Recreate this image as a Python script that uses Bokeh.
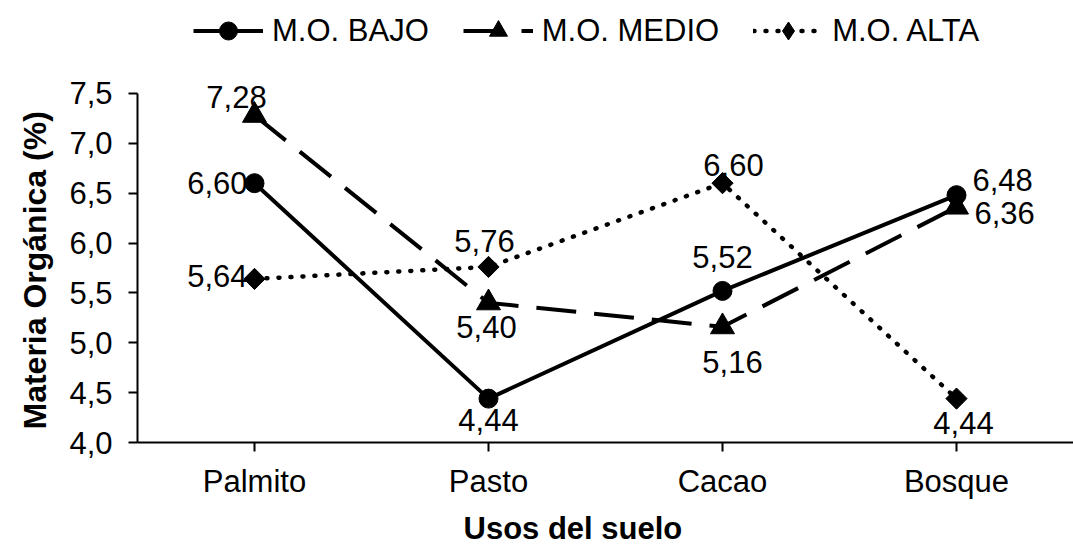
from bokeh.plotting import figure
from bokeh.layouts import column
from bokeh.models import (FactorRange, Range1d, FixedTicker, CustomJSTickFormatter,
                          Legend, LegendItem, ColumnDataSource, Title)
from bokeh.embed import file_html
from bokeh.resources import INLINE
import numpy as np

# ---------------- data ----------------
categories = ["Palmito", "Pasto", "Cacao", "Bosque"]
mo_bajo = [6.60, 4.44, 5.52, 6.48]
mo_medio = [7.28, 5.40, 5.16, 6.36]
mo_alta = [5.64, 5.76, 6.60, 4.44]
series_names = ["M.O. BAJO", "M.O. MEDIO", "M.O. ALTA"]
y_ticks = [4.0, 4.5, 5.0, 5.5, 6.0, 6.5, 7.0, 7.5]
y_tick_labels = ["4,0", "4,5", "5,0", "5,5", "6,0", "6,5", "7,0", "7,5"]
y_min, y_max = 4.0, 7.5
x_title = "Usos del suelo"
y_title = "Materia Orgánica (%)"

# ---------------- label placement (styling) ----------------
lab_align = {
    "bajo": ["right", "center", "center", "left"],
    "medio": ["center", "center", "center", "left"],
    "alta": ["right", "center", "center", "center"],
}
lab_dx = {"bajo": [-7, 0, 0, 16], "medio": [-18, -2, 10, 18], "alta": [-7, -4, 11, 7]}
lab_dy = {"bajo": [0, 21, -34, -15], "medio": [-18, 24, 35, 6], "alta": [-3, -26, -18, 24]}

FONT = "Liberation Sans"
FS = "31px"

TOP_H = 62          # legend strip height
MAIN_H = 552 - TOP_H
FRAME_H = MAIN_H - 109
# extra headroom above 7.5 so the top labels are not clipped (axis line bounded to 4.0-7.5)
y_top = y_min + (y_max - y_min) * FRAME_H / 350.0

p = figure(width=1073, height=MAIN_H,
           x_range=FactorRange(*categories, range_padding=0),
           y_range=Range1d(y_min, y_top),
           output_backend="svg", toolbar_location=None,
           min_border_left=137, min_border_right=0,
           min_border_top=0, min_border_bottom=109)

p.xgrid.grid_line_color = None
p.ygrid.grid_line_color = None
p.outline_line_color = None
p.background_fill_color = "white"
p.border_fill_color = "white"

for ax in (p.xaxis[0], p.yaxis[0]):
    ax.axis_line_color = "black"
    ax.axis_line_width = 2
    ax.major_tick_line_color = "black"
    ax.major_tick_line_width = 2
    ax.major_tick_in = 0
    ax.major_tick_out = 9
    ax.minor_tick_line_color = None
    ax.major_label_text_font = FONT
    ax.major_label_text_font_size = FS
    ax.major_label_text_color = "black"

p.yaxis.bounds = (y_min, y_max)
p.yaxis.ticker = FixedTicker(ticks=y_ticks)
p.yaxis.formatter = CustomJSTickFormatter(
    args=dict(yt=y_ticks, yl=y_tick_labels),
    code="""
    for (let i = 0; i < yt.length; i++) {
        if (Math.abs(yt[i] - tick) < 1e-9) return yl[i];
    }
    return tick.toFixed(1).replace('.', ',');
    """)
p.yaxis.major_label_standoff = 16
p.xaxis.major_label_standoff = 12

# axis titles
p.add_layout(Title(text=x_title, text_font=FONT, text_font_size=FS, text_font_style="bold",
                   text_color="black", align="left", offset=326, standoff=14), "below")
p.add_layout(Title(text=y_title, text_font=FONT, text_font_size="32px", text_font_style="bold",
                   text_color="black", align="left", offset=13, standoff=27), "left")

def fmt(v):
    return f"{v:.2f}".replace(".", ",")

series = [
    ("bajo", mo_bajo, dict(line_dash="solid", line_width=4, line_cap="butt"),
     dict(marker="circle", size=19, angle=0.0), "circle"),
    ("medio", mo_medio, dict(line_dash="40 18", line_width=4, line_cap="butt"),
     dict(marker="triangle", size=24, angle=0.0), "triangle"),
    ("alta", mo_alta, dict(line_dash="1 11", line_width=4.5, line_cap="round"),
     dict(marker="square", size=15, angle=np.pi / 4), "diamond"),
]

# legend strip (separate figure on top)
top = figure(width=1073, height=TOP_H, x_range=Range1d(0, 1073), y_range=Range1d(0, TOP_H),
             output_backend="svg", toolbar_location=None,
             x_axis_type=None, y_axis_type=None,
             min_border_left=0, min_border_right=0, min_border_top=0, min_border_bottom=0)
top.xgrid.grid_line_color = None
top.ygrid.grid_line_color = None
top.outline_line_color = None
top.background_fill_color = "white"
top.border_fill_color = "white"

items = []
for (key, vals, lstyle, mstyle, leg_marker), name in zip(series, series_names):
    src = ColumnDataSource(data=dict(
        x=categories, y=vals,
        lab=[fmt(v) for v in vals],
        align=lab_align[key], dx=lab_dx[key], dy=lab_dy[key],
    ))
    p.line("x", "y", source=src, line_color="black", **lstyle)
    p.scatter("x", "y", source=src, marker=mstyle["marker"], size=mstyle["size"],
              angle=mstyle["angle"], fill_color="black", line_color="black")
    p.text("x", "y", text="lab", source=src, text_align="align", text_baseline="middle",
           x_offset="dx", y_offset="dy", text_font={"value": FONT}, text_font_size=FS,
           text_color="black")
    # legend proxies (kept off-screen in the legend strip)
    lr = top.line([-50, -40], [-50, -50], line_color="black", **lstyle)
    sr = top.scatter([-50], [-50], marker=leg_marker, size=mstyle["size"],
                     fill_color="black", line_color="black")
    items.append(LegendItem(label=name, renderers=[lr, sr]))

# the legend strip's frame is aligned with the main frame (left edge at 137 px)
legend = Legend(items=items, orientation="horizontal", location=(56, 9),
                glyph_width=70, glyph_height=45, label_height=45,
                label_standoff=9, spacing=34, padding=0, margin=0,
                border_line_color=None, background_fill_alpha=0,
                label_text_font=FONT, label_text_font_size=FS, label_text_color="black")
top.add_layout(legend, "center")

layout = column(top, p, spacing=0)
open("out.html", "w").write(file_html(layout, INLINE))
